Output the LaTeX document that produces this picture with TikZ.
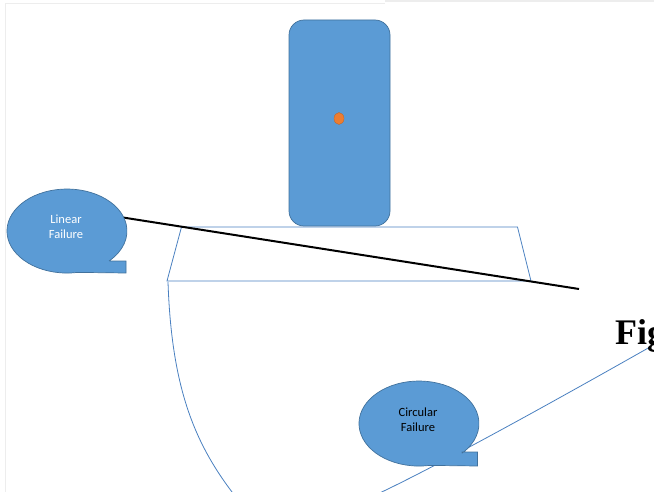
\documentclass[tikz,border=0pt]{standalone}
\usepackage{fontspec}
\setmainfont{Carlito}
\newfontfamily\serifbold{Liberation Serif}
\definecolor{shapefill}{HTML}{5B9BD5}
\definecolor{shapeedge}{HTML}{41719C}
\definecolor{lineblue}{HTML}{4A80C0}
\definecolor{dotorange}{HTML}{ED7D31}
\definecolor{framegray}{HTML}{EDEDED}
\begin{document}
\begin{tikzpicture}[x=1pt,y=-1pt,
  bluefill/.style={fill=shapefill,draw=shapeedge,line width=0.7pt},
  outline/.style={draw=lineblue,line width=0.8pt},
  calltext/.style={font=\fontsize{12.5}{14.7}\selectfont,align=center,inner sep=0pt}]
\useasboundingbox (0,0) rectangle (654,492);
\clip (0,0) rectangle (654,492);

% page frame
\draw[framegray,line width=1.5pt] (5.5,492) -- (5.5,3.5) -- (385,3.5);
\draw[framegray,line width=1.5pt] (385,1) -- (654,1);

% slip surfaces
\draw[outline] (168,282) .. controls (172,400) and (200,455) .. (248,512);
\draw[outline] (360,502) .. controls (420,476) and (560,398) .. (650,347);

% foundation slab
\coordinate (tl) at (181.5,227);
\coordinate (tr) at (517.5,227);
\coordinate (br) at (531,281);
\coordinate (bl) at (167,281);
\draw[outline] (tl) -- (tr) -- (br) -- (bl) -- cycle;

% column with its load point
\node (block) [bluefill,rounded corners=15pt,minimum width=101pt,minimum height=206pt] at (339.5,123) {};
\fill[dotorange,draw=dotorange!80!black,line width=0.3pt] (339,118.5) ellipse [x radius=5,y radius=6];

% tilt line
\coordinate (tiltA) at (123,217.5);
\coordinate (tiltB) at (579,289);
\draw[black,line width=2pt] (tiltA) -- (tiltB);

% callouts
\path[bluefill] (110,261) -- (126,261) -- (126,273) -- (77.4,272.4)
  arc[start angle=80,end angle=405,x radius=60,y radius=42] -- cycle;
\node (linear) [calltext,text=white] at (66,227) {Linear\\Failure};

\path[bluefill] (462,452) -- (477.5,452) -- (477.5,466) -- (429.4,465.4)
  arc[start angle=80,end angle=404,x radius=60,y radius=42.5] -- cycle;
\node (circular) [calltext,text=black] at (418,420) {Circular\\Failure};

% caption
\node (caption) [anchor=base west,inner sep=0pt,font=\serifbold\bfseries\fontsize{36}{40}\selectfont] at (615,344) {Fig};
\end{tikzpicture}
\end{document}
